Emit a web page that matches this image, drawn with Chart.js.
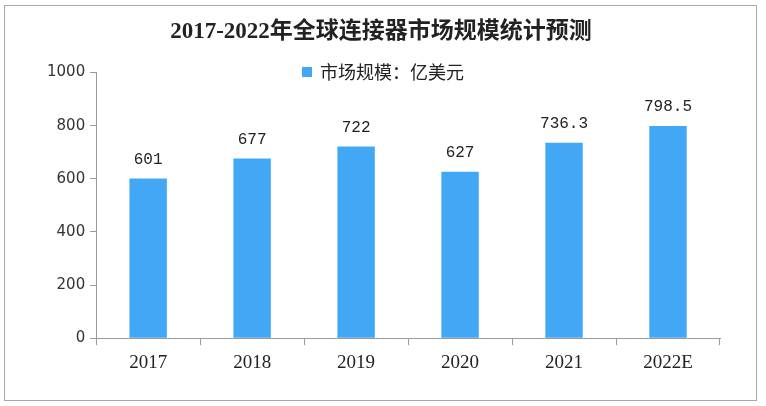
<!DOCTYPE html>
<html>
<head>
<meta charset="utf-8">
<script src="https://cdn.jsdelivr.net/npm/chart.js@4.4.1/dist/chart.umd.min.js"></script>
<style>
  html, body { margin: 0; padding: 0; background: #fff; }
  #wrap { width: 766px; height: 406px; position: relative; }
</style>
</head>
<body>
<div id="wrap"><canvas id="chart"></canvas></div>
<script>
// chart data
const years = ['2017', '2018', '2019', '2020', '2021', '2022E'];
const marketSize = [601, 677, 722, 627, 736.3, 798.5];
const yTicks = [0, 200, 400, 600, 800, 1000];
const seriesName = '市场规模：亿美元';
const chartTitle = '2017-2022年全球连接器市场规模统计预测';

const BAR_COLOR = '#42a8f5';
const AXIS_COLOR = '#9a9a9a';

// white background + outer frame
const framePlugin = {
    id: 'frame',
    beforeDraw(chart) {
        const ctx = chart.ctx;
        ctx.save();
        ctx.fillStyle = '#fff';
        ctx.fillRect(0, 0, chart.width, chart.height);
        ctx.strokeStyle = '#a8a8a8';
        ctx.lineWidth = 1;
        ctx.strokeRect(4.5, 5.5, 752, 395);
        ctx.restore();
    }
};

// value labels on top of bars + legend drawn over the chart top
const labelPlugin = {
    id: 'valueLabels',
    afterDatasetsDraw(chart) {
        const ctx = chart.ctx;
        const meta = chart.getDatasetMeta(0);
        ctx.save();
        ctx.fillStyle = '#222';
        ctx.font = '16px "Liberation Mono", "DejaVu Sans Mono", monospace';
        ctx.textAlign = 'center';
        ctx.textBaseline = 'bottom';
        meta.data.forEach((bar, i) => {
            ctx.fillText(String(chart.data.datasets[0].data[i]), bar.x, bar.y - 11);
        });

        // legend
        ctx.font = '18px "Noto Sans CJK SC", sans-serif';
        ctx.textBaseline = 'middle';
        ctx.textAlign = 'left';
        const label = chart.data.datasets[0].label;
        const tw = ctx.measureText(label).width;
        const total = 10 + 8 + tw;
        const x0 = chart.width / 2 - total / 2;
        const yc = 72;
        ctx.fillStyle = BAR_COLOR;
        ctx.fillRect(x0, yc - 5, 10, 10);
        ctx.fillStyle = '#222';
        ctx.fillText(label, x0 + 18, yc);
        ctx.restore();
    }
};

const ctx = document.getElementById('chart').getContext('2d');
new Chart(ctx, {
    type: 'bar',
    data: {
        labels: years,
        datasets: [{
            label: seriesName,
            data: marketSize,
            backgroundColor: BAR_COLOR,
            borderWidth: 0,
            categoryPercentage: 1,
            barPercentage: 0.36
        }]
    },
    options: {
        responsive: true,
        maintainAspectRatio: false,
        animation: false,
        layout: { padding: { left: 42, right: 46, top: 0, bottom: 26 } },
        plugins: {
            legend: { display: false },
            tooltip: { enabled: false },
            title: {
                display: true,
                text: chartTitle,
                color: '#222',
                font: { family: '"Liberation Serif", "Noto Sans CJK SC", serif', size: 23, weight: 'bold' },
                padding: { top: 18, bottom: 27 }
            }
        },
        scales: {
            x: {
                grid: { display: true, drawOnChartArea: false, tickLength: 7, color: AXIS_COLOR, offset: true },
                border: { color: AXIS_COLOR },
                ticks: {
                    color: '#222',
                    padding: 6,
                    font: { family: '"Liberation Serif", serif', size: 19 }
                }
            },
            y: {
                min: 0,
                max: 1000,
                afterBuildTicks(axis) { axis.ticks = yTicks.map(v => ({ value: v })); },
                grid: { display: true, drawOnChartArea: false, tickLength: 6, color: AXIS_COLOR },
                border: { color: AXIS_COLOR },
                ticks: {
                    color: '#333',
                    padding: 5,
                    font: { family: '"DejaVu Sans", sans-serif', size: 15 },
                    callback: v => String(v)
                }
            }
        }
    },
    plugins: [framePlugin, labelPlugin]
});
</script>
</body>
</html>
